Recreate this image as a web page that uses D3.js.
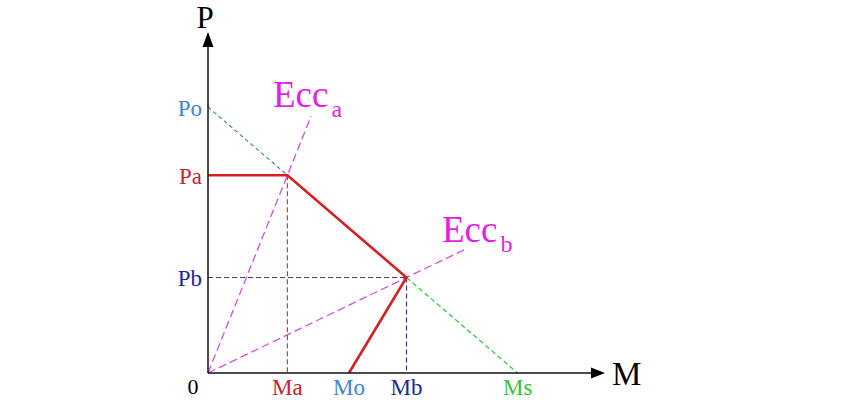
<!DOCTYPE html>
<html><head><meta charset="utf-8">
<script src="https://cdn.jsdelivr.net/npm/d3@7"></script>
<style>body{margin:0;background:#fff}svg{display:block}text{font-family:"Liberation Serif","Times New Roman",serif}</style>
</head><body>
<svg id="c" width="846" height="400"></svg>
<script>
// ---- data ----
const xLabels = ["Ma", "Mo", "Mb", "Ms"];
const xValues = [20, 35.5, 50, 78];
const yLabels = ["Po", "Pa", "Pb"];
const yValues = [78, 58, 28];
const pointA = [20, 58];          // (Ma, Pa)
const pointB = [50, 28];          // (Mb, Pb)
const Mo = 35.5, Ms = 78, Po = 78;
const eccAEnd = [26, 75.4];
const eccBEnd = [65, 36.4];
const axisMax = [100, 100];

// ---- styles ----
const xColors = {Ma:"#c8232e", Mo:"#3a86d4", Mb:"#24249a", Ms:"#35c235"};
const yColors = {Po:"#3a86d4", Pa:"#c8232e", Pb:"#24249a"};

const svg = d3.select("#c");
const x = d3.scaleLinear().domain([0, axisMax[0]]).range([208, 605]);
const y = d3.scaleLinear().domain([0, axisMax[1]]).range([373, 32]);
const line = d3.line().x(d => x(d[0])).y(d => y(d[1]));

function seg(pts, color, w, dash){
  svg.append("path").attr("d", line(pts)).attr("fill","none")
    .attr("stroke", color).attr("stroke-width", w)
    .attr("stroke-dasharray", dash || null);
}

// dashed helper lines
seg([[0, Po], pointA], "#3d7fb5", 1.1, "4,3");
seg([pointB, [Ms, 0]], "#45c445", 1.3, "5,3");
seg([[0,0], eccAEnd], "#d452d4", 1.3, "8,4");
seg([[0,0], eccBEnd], "#d452d4", 1.3, "8,4");
seg([pointA, [pointA[0], 0]], "#b5404f", 1.2, "5,3");
seg([[0, pointB[1]], pointB], "#3d3d90", 1.2, "5,3");
seg([pointB, [pointB[0], 0]], "#3d3d90", 1.2, "5,3");

// red interaction curve
seg([[0, pointA[1]], pointA, pointB, [Mo, 0]], "#d42020", 2.6);

// axes
svg.append("line").attr("x1", x(0)).attr("y1", y(0)).attr("x2", x(axisMax[0]) - 12).attr("y2", y(0))
  .attr("stroke","#111").attr("stroke-width",1.5);
svg.append("line").attr("x1", x(0)).attr("y1", y(0)).attr("x2", x(0)).attr("y2", y(axisMax[1]) + 12)
  .attr("stroke","#111").attr("stroke-width",1.5);
const xt = x(axisMax[0]), yt = y(axisMax[1]);
svg.append("path").attr("d", `M${xt},${y(0)} L${xt-14},${y(0)-5.5} L${xt-14},${y(0)+5.5} Z`).attr("fill","#000");
svg.append("path").attr("d", `M${x(0)},${yt} L${x(0)-5.5},${yt+15} L${x(0)+5.5},${yt+15} Z`).attr("fill","#000");

svg.append("text").attr("x", x(0)-3).attr("y", 28).attr("text-anchor","middle")
  .attr("font-size", 31).attr("fill","#000").text("P");
svg.append("text").attr("x", x(axisMax[0]) + 7).attr("y", 385).attr("text-anchor","start")
  .attr("font-size", 33).attr("fill","#000").text("M");

// tick labels
svg.selectAll(".xl").data(xLabels).enter().append("text")
  .attr("x", (d,i) => x(xValues[i])).attr("y", 395).attr("text-anchor","middle")
  .attr("font-size", 23).attr("fill", d => xColors[d]).text(d => d);
svg.selectAll(".yl").data(yLabels).enter().append("text")
  .attr("x", x(0) - 6).attr("y", (d,i) => y(yValues[i]) + 8.5).attr("text-anchor","end")
  .attr("font-size", 23).attr("fill", d => yColors[d]).text(d => d);
svg.append("text").attr("x", x(0) - 15).attr("y", 394).attr("text-anchor","middle")
  .attr("font-size", 22).attr("fill","#000").text("0");

// Ecc labels
function ecc(px, py, sub){
  const t = svg.append("text").attr("x", px).attr("y", py).attr("fill","#e41fe4").attr("font-size", 37);
  t.append("tspan").text("Ecc");
  t.append("tspan").attr("dx", 3).attr("dy", 10).attr("font-size", 24).text(sub);
}
ecc(273, 107, "a");
ecc(442, 242, "b");
</script>
</body></html>
